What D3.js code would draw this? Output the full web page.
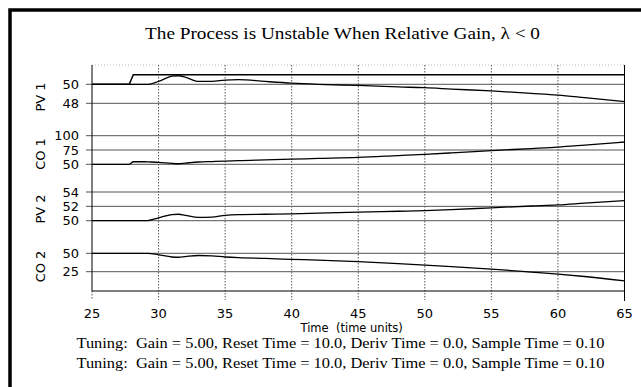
<!DOCTYPE html>
<html>
<head>
<meta charset="utf-8">
<script src="https://cdn.jsdelivr.net/npm/d3@7"></script>
<style>
  html, body { margin: 0; padding: 0; overflow: hidden; background: #fff; }
  svg { display: block; }
  text { white-space: pre; }
</style>
</head>
<body>
<div id="chart"></div>
<script>

const WIDTH = 641;
const HEIGHT = 387;

// Time grid shared by all traces.
const time = [25, 27.8, 28.1, 29, 29.2, 30, 31, 31.5, 32, 33, 34, 35, 36, 38, 40, 42, 45, 48, 50, 52, 55, 58, 60, 62, 65];

const sp1 = [50, 50, 51, 51, 51, 51, 51, 51, 51, 51, 51, 51, 51, 51, 51, 51, 51, 51, 51, 51, 51, 51, 51, 51, 51];
const pv1 = [50, 50, 50, 50, 50, 50.3, 50.85, 50.9, 50.75, 50.3, 50.3, 50.45, 50.5, 50.3, 50.12, 50.0, 49.88, 49.72, 49.64, 49.5, 49.3, 49.05, 48.87, 48.6, 48.17];
const co1 = [50, 50, 54.5, 54.5, 54.3, 53.5, 51.5, 51, 52, 54, 54.8, 55.5, 56.5, 57.8, 59, 60.2, 62, 65.3, 67.5, 70, 74, 77.5, 80, 83.5, 89];
const pv2 = [50, 50, 50, 50, 50.02, 50.4, 50.85, 50.9, 50.75, 50.45, 50.5, 50.75, 50.85, 50.9, 50.94, 51.05, 51.2, 51.32, 51.4, 51.55, 51.8, 52.05, 52.2, 52.45, 52.8];
const co2 = [50, 50, 50, 50, 50, 48, 45, 44.6, 45.5, 47, 46.5, 45, 44, 43, 41.8, 40.6, 38.6, 36, 34, 32, 28.6, 24.5, 21.7, 18.5, 12.6];

// Axis ticks.
const xTicks = [25, 30, 35, 40, 45, 50, 55, 60, 65];
const pv1Ticks = [50, 48];
const co1Ticks = [100, 75, 50];
const pv2Ticks = [54, 52, 50];
const co2Ticks = [50, 25];

const titleText = "The Process is Unstable When Relative Gain, \u03bb < 0";
const xTitle = "Time  (time units)";
const tuning1 = "Tuning:  Gain = 5.00, Reset Time = 10.0, Deriv Time = 0.0, Sample Time = 0.10";
const tuning2 = "Tuning:  Gain = 5.00, Reset Time = 10.0, Deriv Time = 0.0, Sample Time = 0.10";

// Plot box.
const PLOT = {'left': 92, 'right': 624.5, 'top': 65, 'bottom': 291};

const SANS = "'DejaVu Sans', sans-serif";
const SERIF = "'Liberation Serif', 'Times New Roman', serif";


window.onload = function() {

    var svg = d3.select("#chart").append("svg")
                .attr("width", WIDTH)
                .attr("height", HEIGHT);

    // outer frame: only top and left edge are inside the picture
    svg.append("path")
       .attr("d", "M10," + (HEIGHT + 5) + "V10H" + (WIDTH + 5))
       .attr("fill", "none")
       .attr("stroke", "#000")
       .attr("stroke-width", 3.5);

    // the scan is a bit stretched sideways, so fix the widths
    svg.append("text")
       .attr("x", 145).attr("y", 39)
       .attr("font-family", SERIF)
       .attr("font-size", "17px")
       .attr("textLength", 395)
       .attr("lengthAdjust", "spacingAndGlyphs")
       .text(titleText);

    var x = d3.scaleLinear().domain([25, 65]).range([PLOT.left, PLOT.right]);

    // one strip per trace, each with its own scale
    var panels = [
        {'label': 'PV 1', 'mid': 97,  'scale': d3.scaleLinear().domain([48, 50]).range([103.3, 84.3]),  'ticks': pv1Ticks},
        {'label': 'CO 1', 'mid': 154, 'scale': d3.scaleLinear().domain([50, 100]).range([164.3, 135.7]), 'ticks': co1Ticks},
        {'label': 'PV 2', 'mid': 209, 'scale': d3.scaleLinear().domain([50, 54]).range([220.7, 192]),   'ticks': pv2Ticks},
        {'label': 'CO 2', 'mid': 266.5, 'scale': d3.scaleLinear().domain([25, 50]).range([271.7, 253.3]), 'ticks': co2Ticks}
    ];

    // faint top edge
    svg.append("line")
       .attr("x1", PLOT.left).attr("x2", PLOT.right)
       .attr("y1", PLOT.top).attr("y2", PLOT.top)
       .attr("stroke", "#bbb")
       .attr("stroke-dasharray", "1,2");

    // vertical dotted grid + tick marks
    svg.selectAll(".vgrid")
       .data(xTicks.slice(1, -1))
       .enter()
       .append("line")
       .attr("class", "vgrid")
       .attr("x1", d => x(d)).attr("x2", d => x(d))
       .attr("y1", PLOT.top).attr("y2", PLOT.bottom + 9)
       .attr("stroke", "#555")
       .attr("stroke-dasharray", "1.5,1.5");

    svg.append("line")
       .attr("x1", x(25)).attr("x2", x(25))
       .attr("y1", PLOT.bottom).attr("y2", PLOT.bottom + 9)
       .attr("stroke", "#555")
       .attr("stroke-dasharray", "1.5,1.5");

    panels.forEach(function(p) {

        svg.selectAll(null)
           .data(p.ticks)
           .enter()
           .append("line")
           .attr("x1", PLOT.left - 6).attr("x2", PLOT.right)
           .attr("y1", d => p.scale(d)).attr("y2", d => p.scale(d))
           .attr("stroke", "#555")
           .attr("stroke-width", 1);

        svg.selectAll(null)
           .data(p.ticks)
           .enter()
           .append("text")
           .attr("x", 79)
           .attr("y", d => p.scale(d))
           .attr("dy", "0.36em")
           .attr("text-anchor", "end")
           .attr("font-family", SANS)
           .attr("font-size", "13px")
           .text(d => d);

        svg.append("text")
           .attr("transform", "translate(45," + p.mid + ") rotate(-90)")
           .attr("text-anchor", "middle")
           .attr("font-family", SANS)
           .attr("font-size", "13px")
           .text(p.label);
    });

    // axes box
    svg.append("line")
       .attr("x1", PLOT.left).attr("x2", PLOT.left)
       .attr("y1", PLOT.top).attr("y2", PLOT.bottom)
       .attr("stroke", "#000");
    svg.append("line")
       .attr("x1", PLOT.right).attr("x2", PLOT.right)
       .attr("y1", PLOT.top).attr("y2", PLOT.bottom + 10)
       .attr("stroke", "#000");
    svg.append("line")
       .attr("x1", PLOT.left).attr("x2", PLOT.right)
       .attr("y1", PLOT.bottom).attr("y2", PLOT.bottom)
       .attr("stroke", "#000");

    svg.selectAll(".xlab")
       .data(xTicks)
       .enter()
       .append("text")
       .attr("class", "xlab")
       .attr("x", d => x(d))
       .attr("y", 317.5)
       .attr("text-anchor", "middle")
       .attr("font-family", SANS)
       .attr("font-size", "13px")
       .text(d => d);

    svg.append("text")
       .attr("x", 300.5).attr("y", 331.5)
       .attr("font-family", SANS)
       .attr("font-size", "11.5px")
       .text(xTitle);

    svg.append("text")
       .attr("x", 76.5).attr("y", 348)
       .attr("font-family", SERIF)
       .attr("font-size", "15px")
       .attr("textLength", 528)
       .attr("lengthAdjust", "spacingAndGlyphs")
       .text(tuning1);
    svg.append("text")
       .attr("x", 76.5).attr("y", 368)
       .attr("font-family", SERIF)
       .attr("font-size", "15px")
       .attr("textLength", 528)
       .attr("lengthAdjust", "spacingAndGlyphs")
       .text(tuning2);

    // traces
    var series = [
        {'values': sp1, 'panel': panels[0], 'curve': d3.curveLinear, 'width': 1.5},
        {'values': pv1, 'panel': panels[0], 'curve': d3.curveMonotoneX, 'width': 1.3},
        {'values': co1, 'panel': panels[1], 'curve': d3.curveMonotoneX, 'width': 1.3},
        {'values': pv2, 'panel': panels[2], 'curve': d3.curveMonotoneX, 'width': 1.3},
        {'values': co2, 'panel': panels[3], 'curve': d3.curveMonotoneX, 'width': 1.3}
    ];

    series.forEach(function(s) {
        var line = d3.line()
                     .x((d, i) => x(time[i]))
                     .y(d => s.panel.scale(d))
                     .curve(s.curve);

        svg.append("path")
           .attr("d", line(s.values))
           .attr("fill", "none")
           .attr("stroke", "#000")
           .attr("stroke-width", s.width);
    });
};

</script>
</body>
</html>
